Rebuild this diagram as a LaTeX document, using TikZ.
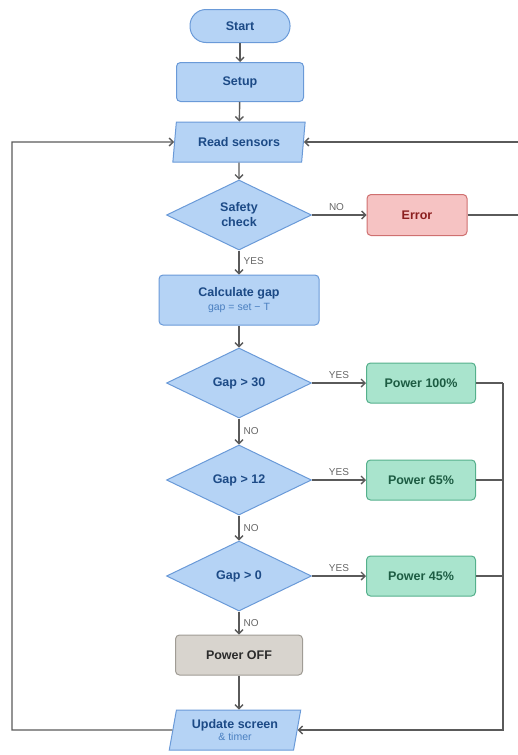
\documentclass[tikz,border=0pt]{standalone}
\usepackage{fontspec}
\setmainfont{Liberation Sans}
\usetikzlibrary{shapes.geometric,arrows.meta}
\definecolor{bluefill}{HTML}{B5D3F5}
\definecolor{bluebd}{HTML}{6A9AD8}
\definecolor{bluetxt}{HTML}{1C4A86}
\definecolor{bluesub}{HTML}{4A7FC0}
\definecolor{greenfill}{HTML}{A9E4CD}
\definecolor{greenbd}{HTML}{55B08C}
\definecolor{greentxt}{HTML}{1D5C43}
\definecolor{redfill}{HTML}{F6C3C3}
\definecolor{redbd}{HTML}{CF7070}
\definecolor{redtxt}{HTML}{8B1F1F}
\definecolor{grayfill}{HTML}{D8D4CE}
\definecolor{graybd}{HTML}{A09C95}
\definecolor{graytxt}{HTML}{2B2B2B}
\definecolor{linegray}{HTML}{5A5A5A}
\definecolor{lblgray}{HTML}{666666}
\begin{document}
\begin{tikzpicture}[x=1pt,y=-1pt,
  base/.style={draw=bluebd, fill=bluefill, text=bluetxt, line width=1pt,
    font=\bfseries\fontsize{12.5}{14}\selectfont, align=center},
  pill/.style={base, rectangle, rounded corners=16pt, minimum width=100pt, minimum height=33pt},
  proc/.style={base, rectangle, rounded corners=4pt, minimum width=127pt, minimum height=39pt},
  io/.style={base, trapezium, trapezium left angle=76, trapezium right angle=104,
    trapezium stretches=true, minimum width=133pt, minimum height=40pt, inner sep=0pt},
  dec/.style={base, diamond, minimum width=145pt, minimum height=70pt, inner sep=0pt, aspect=2},
  greenbox/.style={proc, draw=greenbd, fill=greenfill, text=greentxt, minimum width=109pt, minimum height=40pt},
  redbox/.style={proc, draw=redbd, fill=redfill, text=redtxt, minimum width=100pt, minimum height=41pt},
  graybox/.style={proc, draw=graybd, fill=grayfill, text=graytxt, minimum height=40pt},
  arr/.style={draw=linegray, line width=1.4pt, -{Straight Barb[length=4pt,width=8pt]}},
  ln/.style={draw=linegray, line width=1.4pt},
  lbl/.style={text=lblgray, font=\fontsize{10}{11}\selectfont, inner sep=1pt}
]
\useasboundingbox (0,0) rectangle (517,755);

\node[pill] (start) at (240,26) {Start};
\node[proc] (setup) at (240,82) {Setup};
\node[io] (read) at (239,142) {Read sensors};
\node[dec] (safe) at (239,215) {Safety\\[1pt]check};
\node[redbox] (err) at (417,215) {Error};
\node[proc, minimum width=160pt, minimum height=50pt] (calc) at (239,300)
  {Calculate gap\\[0pt]{\mdseries\fontsize{10.5}{12}\selectfont\color{bluesub}gap = set − T}};
\node[dec] (g30) at (239,383) {Gap > 30};
\node[greenbox] (p100) at (421,383) {Power 100\%};
\node[dec] (g12) at (239,480) {Gap > 12};
\node[greenbox] (p65) at (421,480) {Power 65\%};
\node[dec] (g0) at (239,576) {Gap > 0};
\node[greenbox] (p45) at (421,576) {Power 45\%};
\node[graybox] (off) at (239,655) {Power OFF};
\node[io, minimum width=132pt] (upd) at (235,730)
  {Update screen\\[-2pt]{\mdseries\fontsize{10.5}{11}\selectfont\color{bluesub}\& timer}};

\coordinate (rx) at (530,215);
\coordinate (cx) at (503,383);
\coordinate (lx) at (12,730);

\draw[arr] (start) -- (setup);
\draw[arr] (setup) -- (read);
\draw[arr] (read) -- (safe);
\draw[arr] (safe.east) -- node[lbl, above=3pt, pos=0.45]{NO} (err.west);
\draw[arr] (err.east) -- (rx) |- (read.east);
\draw[arr] (safe.south) -- node[lbl, right=3pt, pos=0.45]{YES} (calc.north);
\draw[arr] (calc) -- (g30);
\draw[arr] (g30.east) -- node[lbl, above=3pt, pos=0.5]{YES} (p100.west);
\draw[arr] (g30.south) -- node[lbl, right=3pt]{NO} (g12.north);
\draw[arr] (g12.east) -- node[lbl, above=3pt, pos=0.5]{YES} (p65.west);
\draw[arr] (g12.south) -- node[lbl, right=3pt]{NO} (g0.north);
\draw[arr] (g0.east) -- node[lbl, above=3pt, pos=0.5]{YES} (p45.west);
\draw[arr] (g0.south) -- node[lbl, right=3pt]{NO} (off.north);
\draw[arr] (off.south) -- (off.south |- upd.north);
\draw[ln] (p100.east) -- (cx);
\draw[arr] (cx) |- (upd.east);
\draw[ln] (p65.east) -- (p65.east -| cx);
\draw[ln] (p45.east) -- (p45.east -| cx);
\draw[arr] (upd.west) -- (lx) |- (read.west);
\end{tikzpicture}
\end{document}
